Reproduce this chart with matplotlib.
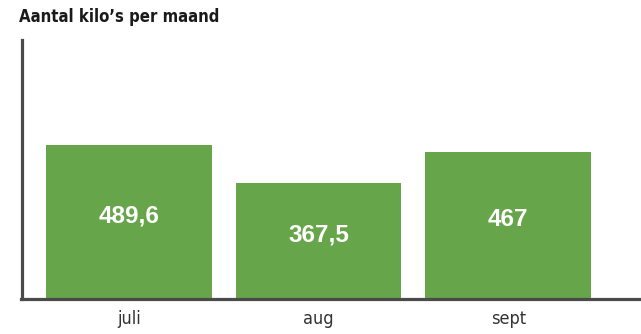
import matplotlib
matplotlib.use("Agg")
import matplotlib.pyplot as plt

categories = ["juli", "aug", "sept"]
values = [489.6, 367.5, 467]
value_labels = ["489,6", "367,5", "467"]
title = "Aantal kilo’s per maand"

W, H = 641, 334
fig = plt.figure(figsize=(W / 100, H / 100), dpi=100)
left, right, top, base = 21.5, 641, 40, 298.5
ax = fig.add_axes([left / W, (H - base) / H, (right - left) / W, (base - top) / H])

green = "#67a54b"
x = list(range(len(categories)))
ax.bar(x, values, width=0.874, color=green, zorder=1)
ax.set_xlim(-0.565, 2.7)
ax.set_ylim(0, (base - top) / 0.314)

for xi, v, lab in zip(x, values, value_labels):
    ax.annotate(lab, (xi, v / 2), xytext=(0, 4), textcoords="offset points",
                ha="center", va="center", color="white", fontsize=17.5,
                fontweight="bold", family=["Liberation Sans", "DejaVu Sans"])

for s in ["top", "right"]:
    ax.spines[s].set_visible(False)
for s in ["left", "bottom"]:
    ax.spines[s].set_color("#4a4a4a")
    ax.spines[s].set_linewidth(2.3)
ax.set_yticks([])
ax.set_xticks(x)
ax.set_xticklabels(categories, family=["DejaVu Sans"], stretch="condensed",
                   fontsize=13, color="#333333")
ax.tick_params(axis="x", length=0, pad=8.5)

fig.text(19 / W, 1 - 8 / H, title, ha="left", va="top",
         family=["DejaVu Sans"], stretch="condensed", fontweight="bold",
         fontsize=12, color="#1a1a1a")

fig.savefig("out.png", dpi=100, facecolor="white")
